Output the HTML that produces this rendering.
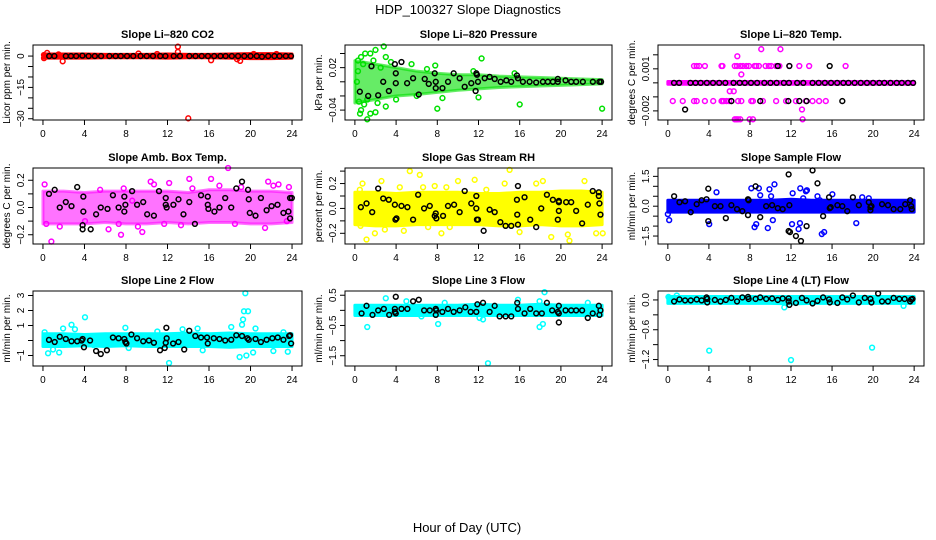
<!DOCTYPE html>
<html><head><meta charset="utf-8"><style>
html,body{margin:0;padding:0;background:#fff}
svg{display:block;font-family:"Liberation Sans",sans-serif}
</style></head><body>
<svg id="chart" width="936" height="540" viewBox="0 0 936 540">
<text x="468" y="14" font-size="13" text-anchor="middle">HDP_100327  Slope Diagnostics</text>
<text x="467" y="532" font-size="13" text-anchor="middle">Hour of Day (UTC)</text>
</svg>
<script>
const xTicks = [0,4,8,12,16,20,24];
const bandHours = [0,2,4,6,8,10,12,14,16,18,20,22,24];

// Panel 1: CO2
const co2Hi = [1,1,1,0.8,0.8,0.8,1,0.8,0.8,1,1.2,1.2,1];
const co2Lo = [-1,-1,-1,-0.8,-0.8,-0.8,-1,-0.8,-0.8,-1,-1.2,-1.2,-1];
const co2Col = [[0.4,1.5],[1.5,0.8],[1.9,-2.5],[9.2,1.2],[11,1],[13,4.5],[13,2],[14,-29.8],[16.2,-2],[18.7,-1.5],[19,-2.3],[20.3,1],[22.5,1],[0.1,-1],[0.1,0.5]];
const co2Black = [[0.6,0],[1.1,0],[2.2,0],[2.7,0],[3.2,0],[3.8,0.2],[4.4,0],[5,0],[5.6,0],[6.4,0],[7,0],[7.5,0],[8.1,0],[8.7,0],[9.4,0],[10,0],[10.6,0],[11.3,0],[11.8,0],[12.6,0],[13.2,0],[14.1,0],[14.7,0],[15.3,0],[15.9,0],[16.5,0],[17.1,0],[17.6,0],[18.2,0],[18.8,0],[19.4,0],[20,0],[20.6,0],[21.1,-0.3],[21.7,0],[22.3,0],[22.8,0],[23.4,0],[23.9,0]];
const co2Ticks = [0,-5,-10,-15,-20,-25,-30];
const co2Labels = [0,-15,-30];

// Panel 2: Pressure
const prHi = [0.03,0.025,0.02,0.015,0.012,0.01,0.01,0.008,0.007,0.006,0.005,0.004,0.003];
const prLo = [-0.03,-0.025,-0.02,-0.018,-0.015,-0.012,-0.01,-0.008,-0.007,-0.006,-0.005,-0.004,-0.003];
const prCol = [[0.3,0.03],[0.6,0.035],[1,0.04],[1.5,0.04],[2,0.045],[2.8,0.05],[3,0.035],[0.5,-0.045],[0.6,-0.04],[1.2,-0.053],[1.5,-0.045],[2,-0.043],[0.4,-0.028],[4,-0.025],[8,-0.038],[8.5,-0.023],[12.3,0.033],[12,-0.022],[16,-0.032],[24,-0.038],[5.5,0.025],[7,0.018],[2.5,0.02],[3.5,0.028],[0.2,0],[1.2,-0.025],[6,-0.02],[7.8,0.023],[11.5,0.015],[15.5,0.012],[0.8,0.025],[1.8,0.03],[0.3,0.015],[2.2,-0.03],[3,-0.035],[0.9,-0.032]];
const prBlack = [[0.48,-0.014],[1.29,-0.02],[1.61,0.022],[2.26,-0.019],[2.75,0],[3.3,-0.013],[3.88,0.025],[3.97,0.012],[3.97,-0.002],[4.52,0.028],[5.07,-0.002],[5.65,0.005],[6.2,-0.018],[6.78,0.004],[7.17,-0.003],[7.75,0.012],[7.85,0],[7.85,-0.009],[8.5,-0.009],[9.04,0],[9.59,0.012],[10.17,0.005],[10.66,-0.007],[11.3,-0.002],[11.72,-0.013],[11.79,0.012],[11.85,0.01],[11.95,0],[12.6,0.005],[13.08,0.007],[13.57,0.004],[14.15,0],[14.7,0.002],[15.18,0],[15.73,0.009],[15.83,0.005],[16.31,0],[16.96,0],[17.6,-0.001],[18.25,0],[18.73,0],[19.22,0],[19.7,0.004],[19.7,0],[20.45,0.002],[21,0],[21.48,0],[22.13,0],[23.1,0],[23.74,0],[23.9,0]];
const prTicks = [0.04,0.02,0,-0.02,-0.04];
const prLabels = [0.02,-0.04];

// Panel 3: Li-820 Temp
const tpHi = [0.0001,0.0001,0.0001,0.0001,0.0001,0.0001,0.0001,0.0001,0.0001,0.0001,0.0001,0.0001,0.0001];
const tpLo = [-0.0001,-0.0001,-0.0001,-0.0001,-0.0001,-0.0001,-0.0001,-0.0001,-0.0001,-0.0001,-0.0001,-0.0001,-0.0001];
const tpCol = [[2.55,0.0012],[2.81,0.0012],[3.06,0.0012],[3.61,0.0012],[5.23,0.0012],[5.32,0.0012],[6.52,0.0012],[6.74,0.0012],[7.06,0.0012],[7.32,0.0012],[7.65,0.0012],[7.9,0.0012],[8.45,0.0012],[8.61,0.0012],[8.87,0.0012],[9.52,0.0012],[9.84,0.0012],[10.07,0.0012],[10.55,0.0012],[10.87,0.0012],[11.84,0.0012],[12.81,0.0012],[13.77,0.0012],[17.32,0.0012],
 [0.48,-0.0013],[1.45,-0.0013],[2.55,-0.0013],[2.81,-0.0013],[3.61,-0.0013],[4.42,-0.0013],[5.23,-0.0013],[5.32,-0.0013],[5.45,-0.0013],[5.71,-0.0013],[5.97,-0.0013],[6.19,-0.0013],[6.84,-0.0013],[7.16,-0.0013],[8.13,-0.0013],[8.29,-0.0013],[9.26,-0.0013],[10.55,-0.0013],[11.52,-0.0013],[12.48,-0.0013],[13.45,-0.0013],[14.1,-0.0013],[14.74,-0.0013],[15.39,-0.0013],
 [9.1,0.0024],[10.97,0.0024],[6.77,0.0019],[7.16,0.0006],[6.03,-0.0006],[6.42,-0.0006],[13.07,-0.0019],[6.52,-0.0026],[6.68,-0.0026],[6.84,-0.0026],[7.06,-0.0026],[7.97,-0.0026],[8.29,-0.0026],[13.13,-0.0026]];
const tpBlack = [[0.6,0],[1.1,0],[2.2,0],[2.7,0],[3.2,0],[3.8,0],[4.4,0],[5,0],[5.6,0],[6.4,0],[7,0],[7.5,0],[8.1,0],[8.7,0],[9.4,0],[10,0],[10.6,0],[11.3,0],[11.8,0],[12.6,0],[13.2,0],[14.1,0],[14.7,0],[15.3,0],[15.9,0],[16.5,0],[17.1,0],[17.6,0],[18.2,0],[18.8,0],[19.4,0],[20,0],[20.6,0],[21.1,0],[21.7,0],[22.3,0],[22.8,0],[23.4,0],[23.9,0],
 [10.71,0.0012],[11.84,0.0012],[15.77,0.0012],[6.19,-0.0013],[9.0,-0.0013],[11.74,-0.0013],[12.81,-0.0013],[13.52,-0.0013],[17.0,-0.0013],[1.68,-0.0019]];
const tpTicks = [0.002,0.001,0,-0.001,-0.002];
const tpLabels = [0.001,-0.002];

// Panel 4: Amb Box Temp
const abHi = [0.12,0.12,0.11,0.12,0.12,0.12,0.12,0.11,0.13,0.13,0.12,0.12,0.11];
const abLo = [-0.12,-0.12,-0.12,-0.11,-0.12,-0.12,-0.11,-0.12,-0.11,-0.11,-0.12,-0.12,-0.11];
const abCol = [[0.16,0.17],[0.81,-0.25],[0.32,-0.12],[1.62,-0.14],[4.05,-0.1],[5.51,0.13],[6.32,-0.16],[7.3,-0.12],[7.52,-0.2],[7.78,0.14],[9.15,-0.14],[9.57,-0.18],[10.38,0.19],[10.7,0.17],[11.68,-0.12],[12.16,0.18],[13.3,-0.13],[14.1,0.21],[16.2,0.21],[17,0.16],[17.84,0.29],[18.5,-0.12],[19.1,0.15],[21.7,0.19],[22.2,0.16],[22.7,0.17],[23.5,-0.1],[23.7,0.15],[21.4,-0.15],[14.4,0.14],[8.6,0.05]];
const abBlack = [[0.58,0.1],[1.13,0.13],[1.62,0],[2.2,0.04],[2.75,0.01],[3.3,0.15],[3.82,-0.13],[3.89,0.08],[3.82,-0.16],[3.89,-0.03],[4.6,-0.16],[5.12,-0.05],[5.57,0],[6.22,-0.01],[6.74,0.09],[7.29,0],[7.84,0.08],[7.84,-0.03],[7.94,0.02],[8.59,0.12],[9.07,0.02],[9.66,0.04],[10.04,-0.05],[10.69,-0.06],[11.18,0.12],[11.83,0.07],[11.83,0.02],[11.92,0],[12.57,0.02],[13.06,0.06],[13.54,-0.05],[14.1,0.04],[14.64,-0.12],[15.23,0.09],[15.88,0.08],[15.88,0.02],[15.94,-0.01],[16.52,-0.03],[17.01,0],[17.56,0.07],[18.14,0],[18.63,0.14],[19.18,0.19],[19.76,0.13],[19.83,0.06],[19.93,-0.04],[20.48,-0.06],[21,0.07],[21.55,-0.02],[22.03,0.01],[22.6,0.02],[23.17,-0.04],[23.65,-0.03],[23.81,-0.08],[23.81,0.07],[23.98,0.07]];
const abTicks = [0.2,0.1,0,-0.1,-0.2];
const abLabels = [0.2,0.0,-0.2];

// Panel 5: Gas Stream RH
const rhHi = [0.13,0.13,0.12,0.13,0.13,0.13,0.12,0.12,0.13,0.13,0.14,0.14,0.13];
const rhLo = [-0.13,-0.14,-0.14,-0.13,-0.13,-0.13,-0.13,-0.14,-0.14,-0.13,-0.14,-0.14,-0.13];
const rhCol = [[0.48,0.15],[0.55,-0.14],[0.74,0.2],[1.13,-0.25],[1.94,-0.2],[2.58,0.22],[2.91,-0.17],[4.36,0.17],[4.75,-0.18],[5.33,0.3],[6.3,0.27],[6.62,0.17],[7.11,-0.15],[7.75,0.18],[8.4,-0.2],[8.88,0.17],[9.21,-0.15],[10.01,0.22],[11.63,0.23],[12.76,0.15],[14.54,0.2],[15.02,0.31],[15.99,-0.19],[17.6,0.2],[18.25,0.22],[19.06,-0.23],[20.67,-0.21],[20.83,-0.26],[22.29,0.22],[23.42,-0.2],[24.06,-0.2]];
const rhBlack = [[0.58,0.01],[1.13,0.04],[1.68,-0.03],[2.26,0.16],[2.75,0.08],[3.29,0.07],[3.88,0.03],[3.94,-0.09],[4.04,-0.08],[4.52,0.02],[5.1,0.01],[5.65,-0.09],[6.14,0.11],[6.72,0],[7.27,0.02],[7.75,-0.06],[7.85,-0.04],[7.91,-0.08],[8.56,-0.06],[9.04,0.02],[9.63,0.03],[10.17,-0.03],[10.66,0.14],[11.3,0.04],[11.79,0.1],[11.79,0],[11.85,-0.09],[11.95,-0.09],[12.5,-0.18],[13.08,-0.01],[13.57,-0.03],[14.12,-0.11],[14.63,-0.14],[15.18,-0.14],[15.73,0.07],[15.76,-0.05],[15.83,0.18],[15.83,-0.13],[16.47,0.09],[17.02,-0.09],[17.6,-0.15],[18.09,0],[18.64,0.11],[19.22,0.07],[19.7,-0.09],[19.8,-0.02],[19.8,0.05],[19.8,0.06],[20.51,0.05],[21,0.05],[21.48,-0.02],[22.06,-0.12],[22.61,0.03],[23.09,0.14],[23.68,0.13],[23.68,0.1],[23.74,0.04],[23.84,-0.05]];
const rhTicks = [0.3,0.2,0.1,0,-0.1,-0.2];
const rhLabels = [0.2,0.0,-0.2];

// Panel 6: Sample Flow
const sfHi = [0.3,0.3,0.3,0.3,0.3,0.3,0.35,0.3,0.3,0.3,0.3,0.3,0.3];
const sfLo = [-0.3,-0.3,-0.3,-0.3,-0.3,-0.3,-0.3,-0.3,-0.3,-0.3,-0.3,-0.3,-0.3];
const sfCol = [[0,-0.4],[0.13,-0.7],[4.74,0.7],[4.03,-0.9],[8.13,0.9],[8.87,0.9],[9.0,0.55],[8.45,-1.05],[8.61,-0.9],[9.74,-1.1],[9.9,0.85],[10.06,0.5],[10.39,1.1],[10.23,-0.7],[12.1,-0.9],[12.16,0.65],[12.9,0.9],[13.19,0.4],[13.45,0.75],[13.55,0.8],[12.74,-1.15],[12.87,-0.85],[14.58,0.5],[15.0,-1.4],[15.23,-1.3],[14.81,0.3],[16.03,0.6],[18.36,-0.85],[18.94,0.45],[19.58,0.4]];
const sfBlack = [[0.61,0.5],[1.13,0.2],[1.68,0.25],[2.23,-0.3],[2.81,0.1],[3.29,0.3],[3.77,0.35],[3.94,-0.75],[3.94,0.88],[4.58,0],[5.13,0],[5.65,-0.6],[6.19,0.05],[6.74,-0.15],[7.26,-0.25],[7.81,-0.45],[7.87,0.3],[7.81,0.35],[8.55,1.0],[9.0,-0.55],[9.58,0],[10.16,0.05],[10.71,-0.1],[11.19,-0.15],[11.77,1.6],[11.84,0.05],[11.77,-1.25],[11.9,-1.3],[12.48,-1.5],[12.97,-1.75],[13.52,-1.0],[14.1,1.8],[14.58,1.15],[15.13,-0.5],[15.71,0.45],[15.78,-0.1],[15.87,-0.05],[16.52,0.05],[17.0,0],[17.48,-0.25],[18.03,0.45],[18.61,0.05],[19.58,0.2],[19.74,-0.2],[19.74,-0.05],[19.84,0],[20.87,0.1],[21.45,0.05],[22.0,-0.15],[22.65,-0.15],[23.13,0.1],[23.61,0.3],[23.71,0],[23.77,-0.15]];
const sfTicks = [1.5,1,0.5,0,-0.5,-1,-1.5];
const sfLabels = [1.5,0.0,-1.5];

// Panel 7: Line 2 Flow
const l2Hi = [0.45,0.45,0.4,0.45,0.45,0.45,0.45,0.5,0.45,0.5,0.45,0.45,0.45];
const l2Lo = [-0.4,-0.4,-0.35,-0.4,-0.35,-0.4,-0.4,-0.4,-0.4,-0.45,-0.4,-0.4,-0.4];
const l2Col = [[0.16,0.55],[0.49,-0.85],[0.97,-0.6],[1.56,-0.8],[1.94,0.8],[2.75,1.05],[3.08,0.75],[4.05,1.55],[4.86,-0.3],[7.94,0.85],[8.26,-0.5],[11.02,0.6],[12.15,-1.5],[13.45,0.75],[14.9,0.8],[15.39,-0.65],[18.14,0.9],[18.47,-0.3],[18.95,-1.1],[19.18,1.05],[19.28,1.4],[19.37,1.95],[19.5,3.15],[19.76,1.95],[19.6,-1.0],[20.25,-0.8],[20.48,0.8],[22.2,-0.7],[23.59,-0.75],[23.17,0.55]];
const l2Black = [[0.58,0.04],[1.13,-0.1],[1.62,0.25],[2.2,0.1],[2.75,-0.05],[3.3,-0.05],[3.73,0],[3.82,0.1],[3.95,-0.45],[4.54,0],[5.12,-0.7],[5.57,-0.9],[6.16,-0.65],[6.74,0.2],[7.29,0.15],[7.84,0.1],[7.94,-0.1],[8.04,-0.2],[8.52,0.4],[9.07,0.15],[9.66,-0.05],[10.21,0],[10.69,-0.15],[11.28,-0.65],[11.73,-0.5],[11.83,-0.15],[11.89,0.85],[11.92,0.15],[12.54,-0.2],[13.06,-0.1],[13.61,-0.6],[14.1,0.65],[14.68,0.3],[15.23,0.2],[15.81,0.2],[15.88,-0.2],[16.46,0.15],[17.01,0.1],[17.56,0],[18.14,0.05],[18.63,0.35],[19.18,0.3],[19.7,0.15],[19.83,0.05],[20.48,0.1],[21,-0.1],[21.55,0.05],[22.1,0.15],[22.62,0.2],[23.17,0.05],[23.72,0.3],[23.81,0.35],[23.91,-0.2]];
const l2Ticks = [3,2,1,0,-1];
const l2Labels = [3,2,1,-1];

// Panel 8: Line 3 Flow
const l3Hi = [0.17,0.17,0.17,0.17,0.17,0.17,0.2,0.17,0.17,0.2,0.17,0.17,0.17];
const l3Lo = [-0.17,-0.17,-0.17,-0.17,-0.17,-0.17,-0.17,-0.17,-0.17,-0.17,-0.17,-0.17,-0.17];
const l3Col = [[1.2,-0.55],[3.0,0.4],[5.0,0.3],[6.46,-0.2],[8.08,-0.45],[8.72,0.25],[12.1,-0.25],[12.44,-0.3],[12.92,-1.75],[15.83,0.35],[17.93,-0.55],[18.25,-0.45],[18.41,0.6],[17.93,0.3],[22.61,0.25]];
const l3Black = [[0.65,-0.1],[1.13,0.15],[1.71,-0.15],[2.26,0],[2.81,0.05],[3.33,-0.15],[3.88,-0.05],[3.88,0.05],[3.97,0.45],[3.97,-0.1],[4.52,0.05],[5.1,0.05],[5.65,0.3],[6.2,0.35],[6.72,0],[7.27,0],[7.85,0.05],[7.85,-0.15],[7.91,0],[8.49,-0.05],[9.04,0.05],[9.59,-0.05],[10.17,0],[10.72,0.1],[11.24,-0.05],[11.79,-0.05],[11.89,0.2],[12.44,0.25],[13.08,-0.05],[13.57,0.15],[14.05,-0.2],[14.63,-0.2],[15.18,-0.2],[15.76,0.25],[15.83,0.05],[16.47,-0.1],[17.02,0.05],[17.6,-0.1],[18.15,-0.1],[18.64,0.25],[19.15,0],[19.7,-0.05],[19.8,-0.1],[19.8,0.15],[19.8,-0.4],[20.45,0],[21,0],[21.48,0],[22.06,0],[22.61,-0.25],[23.09,-0.1],[23.68,0.15],[23.74,-0.15],[23.84,0]];
const l3Ticks = [0.5,0,-0.5,-1,-1.5];
const l3Labels = [0.5,-0.5,-1.5];

// Panel 9: Line 4 (LT) Flow
const l4Hi = [0.07,0.07,0.07,0.07,0.07,0.07,0.07,0.07,0.07,0.07,0.07,0.07,0.07];
const l4Lo = [-0.07,-0.07,-0.07,-0.07,-0.07,-0.07,-0.08,-0.07,-0.07,-0.07,-0.07,-0.07,-0.07];
const l4Col = [[0.06,0.06],[0.87,0.09],[4.03,-1.02],[11.35,-0.15],[12,-1.21],[19.9,-0.96],[22.97,-0.12]];
const l4Black = [[0.61,-0.03],[1.13,0.01],[1.68,-0.01],[2.23,-0.01],[2.81,0.01],[3.29,-0.01],[3.77,0.05],[3.84,-0.05],[3.84,0.02],[4.58,0],[5.13,-0.03],[5.65,0],[6.19,0.04],[6.74,-0.03],[7.26,0.05],[7.81,0.06],[7.87,0.02],[8.55,0.02],[9.0,0.05],[9.58,0.02],[10.16,0.03],[10.71,0],[11.19,0.03],[11.77,0.03],[11.77,-0.03],[11.84,-0.1],[12.48,-0.06],[13.07,0.04],[13.52,-0.01],[14.1,-0.07],[14.58,-0.02],[15.13,0.05],[15.71,0.01],[15.78,-0.05],[16.52,-0.06],[17.0,0.05],[17.48,0.01],[18.03,0.09],[18.61,-0.05],[19.19,0.04],[19.74,0.02],[19.84,-0.05],[20.49,0.13],[20.87,-0.03],[21.45,-0.03],[22.0,0.04],[22.55,0.02],[23.07,0.02],[23.61,-0.03],[23.71,0.01],[23.84,0.02]];
const l4Ticks = [0,-0.3,-0.6,-0.9,-1.2];
const l4Labels = [0.0,-0.6,-1.2];

const panels = [
 {name:'co2',title:'Slope Li\u2013820 CO2',ylab:'Licor ppm per min.',L:33,T:45,R:302,B:120,ymin:-30.6,ymax:5.3,color:'#ff0000',op:1,hi:co2Hi,lo:co2Lo,col:co2Col,blk:co2Black,ticks:co2Ticks,labels:co2Labels},
 {name:'pressure',title:'Slope Li\u2013820 Pressure',ylab:'kPa per min.',L:345,T:45,R:612,B:120,ymin:-0.054,ymax:0.052,color:'#00e000',op:0.6,hi:prHi,lo:prLo,col:prCol,blk:prBlack,ticks:prTicks,labels:prLabels},
 {name:'temp',title:'Slope Li\u2013820 Temp.',ylab:'degrees C per min.',L:658,T:45,R:924,B:120,ymin:-0.00265,ymax:0.0027,color:'#ff00ff',op:1,hi:tpHi,lo:tpLo,col:tpCol,blk:tpBlack,ticks:tpTicks,labels:tpLabels},
 {name:'amb-box-temp',title:'Slope Amb. Box Temp.',ylab:'degrees C per min.',L:33,T:168,R:302,B:244,ymin:-0.268,ymax:0.29,color:'#ff00ff',op:0.55,hi:abHi,lo:abLo,col:abCol,blk:abBlack,ticks:abTicks,labels:abLabels},
 {name:'gas-stream-rh',title:'Slope Gas Stream RH',ylab:'percent per min.',L:345,T:168,R:612,B:244,ymin:-0.286,ymax:0.325,color:'#ffff00',op:1,hi:rhHi,lo:rhLo,col:rhCol,blk:rhBlack,ticks:rhTicks,labels:rhLabels},
 {name:'sample-flow',title:'Slope Sample Flow',ylab:'ml/min per min.',L:658,T:168,R:924,B:244,ymin:-1.9,ymax:1.92,color:'#0000ff',op:1,hi:sfHi,lo:sfLo,col:sfCol,blk:sfBlack,ticks:sfTicks,labels:sfLabels},
 {name:'line2-flow',title:'Slope Line 2 Flow',ylab:'ml/min per min.',L:33,T:291,R:302,B:366,ymin:-1.7,ymax:3.3,color:'#00ffff',op:1,hi:l2Hi,lo:l2Lo,col:l2Col,blk:l2Black,ticks:l2Ticks,labels:l2Labels},
 {name:'line3-flow',title:'Slope Line 3 Flow',ylab:'ml/min per min.',L:345,T:291,R:612,B:366,ymin:-1.84,ymax:0.64,color:'#00ffff',op:1,hi:l3Hi,lo:l3Lo,col:l3Col,blk:l3Black,ticks:l3Ticks,labels:l3Labels},
 {name:'line4-flow',title:'Slope Line 4 (LT) Flow',ylab:'ml/min per min.',L:658,T:291,R:924,B:366,ymin:-1.33,ymax:0.18,color:'#00ffff',op:1,hi:l4Hi,lo:l4Lo,col:l4Col,blk:l4Black,ticks:l4Ticks,labels:l4Labels}
];

const NS='http://www.w3.org/2000/svg';
const svg=document.getElementById('chart');
function mk(tag,attrs,parent){const e=document.createElementNS(NS,tag);for(const k in attrs)e.setAttribute(k,attrs[k]);(parent||svg).appendChild(e);return e;}
function fmt(v){return (v<0?'\u2212':'')+String(Math.abs(v));}

panels.forEach(p=>{
  const g=mk('g',{});
  
  
  const w=p.R-p.L, h=p.B-p.T;
  const x=v=>p.L+w*(v+0.96)/25.92;
  const y=v=>p.B-h*(v-p.ymin)/(p.ymax-p.ymin);
  let pts=bandHours.map((hr,i)=>x(hr)+','+y(p.hi[i]));
  pts=pts.concat(bandHours.slice().reverse().map((hr,j)=>{const i=bandHours.length-1-j;return x(hr)+','+y(p.lo[i]);}));
  const band=mk('polygon',{points:pts.join(' '),fill:p.color,stroke:p.color,'stroke-width':3,'stroke-linejoin':'round','fill-opacity':p.op,'stroke-opacity':p.op},g);
  
  
  p.col.forEach(d=>{
    const c=mk('circle',{cx:x(d[0]),cy:y(d[1]),r:2.4,fill:'none',stroke:p.color,'stroke-width':1.5},g);
    
    
  });
  p.blk.forEach(d=>{
    const c=mk('circle',{cx:x(d[0]),cy:y(d[1]),r:2.4,fill:'none',stroke:'#000','stroke-width':1.5},g);
    
    
  });
  const box=mk('rect',{x:p.L,y:p.T,width:w,height:h,fill:'none',stroke:'#000','stroke-width':1},g);
  
  
  const t=mk('text',{x:(p.L+p.R)/2,y:p.T-7,'font-size':11,'font-weight':'bold','text-anchor':'middle'},g);
  t.textContent=p.title;
  
  
  xTicks.forEach(v=>{
    mk('line',{x1:x(v),x2:x(v),y1:p.B,y2:p.B+5,stroke:'#000'},g);
    const tl=mk('text',{x:x(v),y:p.B+17,'font-size':10,'text-anchor':'middle'},g);
    tl.textContent=v;
    
    
  });
  p.ticks.forEach(v=>{mk('line',{x1:p.L,x2:p.L-5,y1:y(v),y2:y(v),stroke:'#000'},g);});
  p.labels.forEach(v=>{
    const s=(Math.abs(v)<1e-12)?(String(p.labels.find(q=>q!==0)).includes('.')?'0.0':'0'):fmt(v);
    const tl=mk('text',{x:p.L-9,y:y(v),'font-size':10,'text-anchor':'middle',transform:`rotate(-90 ${p.L-9} ${y(v)})`},g);
    tl.textContent=s;
    
    
  });
  const cy=(p.T+p.B)/2;
  const yl=mk('text',{x:p.L-23,y:cy,'font-size':10,'text-anchor':'middle',transform:`rotate(-90 ${p.L-23} ${cy})`},g);
  yl.textContent=p.ylab;
  
  
});
</script>
</body></html>
